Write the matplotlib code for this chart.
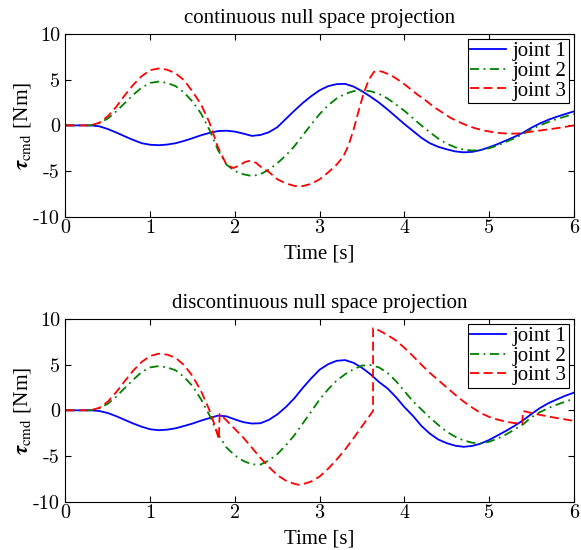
import numpy as np
import matplotlib
matplotlib.use("Agg")
import matplotlib.pyplot as plt

plt.rcParams['font.family'] = ['Liberation Serif', 'DejaVu Serif']
plt.rcParams['mathtext.fontset'] = 'stix'
plt.rcParams['axes.unicode_minus'] = False

# common time base (s) for joints 1 and 2, values every 0.1 s
t = np.linspace(0, 6, 61)

# ---- continuous null space projection
j1_cont = [0, 0, 0, 0, -0.1, -0.4, -0.78, -1.2, -1.6, -1.95,
           -2.12, -2.17, -2.1, -1.95, -1.7, -1.4, -1.08, -0.82, -0.62, -0.58,
           -0.68, -0.9, -1.15, -1.05, -0.75, -0.2, 0.7, 1.6, 2.45, 3.2,
           3.85, 4.3, 4.52, 4.55, 4.25, 3.75, 3.15, 2.5, 1.75, 0.95,
           0.15, -0.6, -1.35, -1.95, -2.35, -2.62, -2.85, -2.95, -2.9, -2.7,
           -2.4, -2.05, -1.65, -1.25, -0.8, -0.25, 0.22, 0.62, 0.95, 1.25,
           1.53]
j2_cont = [0, 0, 0, 0, 0.25, 0.75, 1.55, 2.45, 3.35, 4.15,
           4.65, 4.8, 4.65, 4.3, 3.6, 2.6, 1.3, -0.5, -2.7, -4.3,
           -5.0, -5.35, -5.55, -5.35, -4.85, -4.15, -3.3, -2.3, -1.1, 0.1,
           1.25, 2.2, 2.95, 3.45, 3.75, 3.83, 3.75, 3.45, 2.95, 2.3,
           1.6, 0.8, 0.0, -0.75, -1.45, -2.0, -2.4, -2.65, -2.75, -2.7,
           -2.5, -2.2, -1.8, -1.4, -0.95, -0.4, 0.0, 0.38, 0.7, 0.98,
           1.24]
t3_cont = [0, 0.1, 0.2, 0.3, 0.4, 0.5, 0.6, 0.7, 0.8, 0.9, 1.0, 1.1, 1.2, 1.3, 1.4, 1.5, 1.6,
           1.7, 1.8, 1.9, 1.98, 2.05, 2.12, 2.18, 2.25, 2.3, 2.4, 2.5, 2.6, 2.7, 2.75, 2.8,
           2.9, 3.0, 3.1, 3.2, 3.28, 3.34, 3.4, 3.46, 3.52, 3.58, 3.64, 3.68, 3.75, 3.85,
           3.95, 4.05, 4.15, 4.25, 4.35, 4.45, 4.55, 4.65, 4.75, 4.85, 4.95, 5.05, 5.15,
           5.25, 5.35, 5.45, 5.55, 5.65, 5.75, 5.85, 6.0]
j3_cont = [0, 0, 0, 0, 0.3, 1.0, 2.05, 3.3, 4.45, 5.4, 6.05, 6.24, 6.1, 5.7, 4.95, 3.7, 2.3,
           0.3, -2.4, -4.3, -4.67, -4.4, -4.0, -3.87, -4.1, -4.5, -5.1, -5.9, -6.35, -6.62,
           -6.68, -6.65, -6.4, -5.9, -5.15, -4.3, -3.4, -2.2, -0.47, 1.6, 3.54, 5.0, 5.85,
           6.0, 5.85, 5.45, 4.85, 4.15, 3.4, 2.75, 2.0, 1.4, 0.8, 0.35, -0.05, -0.35, -0.58,
           -0.75, -0.86, -0.91, -0.88, -0.75, -0.62, -0.5, -0.37, -0.24, 0]

# ---- discontinuous null space projection
j1_disc = [0, 0, 0, 0, -0.08, -0.3, -0.65, -1.05, -1.45, -1.8,
           -2.08, -2.18, -2.12, -1.97, -1.72, -1.45, -1.13, -0.85, -0.58, -0.66,
           -1.0, -1.3, -1.45, -1.42, -1.05, -0.45, 0.35, 1.3, 2.45, 3.5,
           4.45, 5.05, 5.42, 5.5, 5.2, 4.65, 3.95, 3.1, 2.4, 1.45,
           0.35, -0.6, -1.7, -2.55, -3.2, -3.6, -3.88, -4.0, -3.9, -3.65,
           -3.25, -2.75, -2.25, -1.7, -1.1, -0.4, 0.25, 0.78, 1.2, 1.6,
           1.93]
j2_disc = [0, 0, 0, 0, 0.22, 0.72, 1.5, 2.45, 3.35, 4.2,
           4.7, 4.84, 4.7, 4.38, 3.65, 2.65, 1.2, -0.55, -2.6, -4.07,
           -4.95, -5.55, -5.92, -5.95, -5.5, -4.8, -3.85, -2.75, -1.45, -0.15,
           1.2, 2.3, 3.25, 3.95, 4.5, 4.9, 4.95, 4.7, 4.1, 3.2,
           2.1, 1.0, 0.1, -0.8, -1.6, -2.35, -2.9, -3.3, -3.55, -3.62,
           -3.45, -3.1, -2.65, -2.1, -1.55, -0.75, -0.2, 0.25, 0.62, 0.95,
           1.27]
t3_disc = [0, 0.1, 0.2, 0.3, 0.4, 0.5, 0.6, 0.7, 0.8, 0.9, 1.0, 1.1, 1.2, 1.3, 1.4, 1.5, 1.6,
           1.7, 1.76, 1.81, 1.82, 1.9, 2.0, 2.1, 2.2, 2.3, 2.4, 2.5, 2.6, 2.7, 2.75, 2.8, 2.9,
           3.0, 3.1, 3.2, 3.3, 3.4, 3.5, 3.63, 3.63, 3.7, 3.8, 3.9, 4.0, 4.1, 4.2, 4.3, 4.4,
           4.5, 4.6, 4.7, 4.8, 4.9, 5.0, 5.1, 5.2, 5.3, 5.39, 5.4, 5.5, 5.6, 5.7, 5.8, 5.9,
           6.0]
j3_disc = [0, 0, 0, 0, 0.28, 0.95, 2.0, 3.2, 4.35, 5.3, 5.95, 6.2, 6.1, 5.75, 4.95, 3.75, 2.1,
           0.0, -1.6, -3.16, -0.4, -1.1, -2.05, -3.0, -4.1, -5.2, -6.2, -7.1, -7.7, -8.05,
           -8.15, -8.1, -7.8, -7.25, -6.4, -5.4, -4.3, -3.05, -1.75, -0.07, 9.0, 8.75, 8.25,
           7.65, 6.85, 5.95, 5.0, 4.1, 3.3, 2.5, 1.7, 0.95, 0.3, -0.3, -0.72, -1.02, -1.25,
           -1.4, -1.45, -0.07, -0.3, -0.5, -0.68, -0.85, -1.0, -1.16]

labels = ['joint 1', 'joint 2', 'joint 3']
titles = ['continuous null space projection', 'discontinuous null space projection']
xticks = [0, 1, 2, 3, 4, 5, 6]
yticks = [-10, -5, 0, 5, 10]

fig = plt.figure(figsize=(5.81, 5.5), dpi=100)
ax_top = fig.add_axes([0.1127, 0.606, 0.875, 0.332])
ax_bot = fig.add_axes([0.1127, 0.088, 0.875, 0.332])

panels = [(ax_top, j1_cont, j2_cont, t3_cont, j3_cont),
          (ax_bot, j1_disc, j2_disc, t3_disc, j3_disc)]

for i, (ax, y1, y2, t3, y3) in enumerate(panels):
    ax.plot(t, y1, color='#0000ff', lw=1.3, ls='-', label=labels[0])
    ax.plot(t, y2, color='#008000', lw=1.3, dashes=(5, 2.5, 1, 2.5), label=labels[1])
    ax.plot(t3, y3, color='#ff0000', lw=1.3, dashes=(5, 2.5), label=labels[2])
    ax.set_xlim(0, 6)
    ax.set_ylim(-10, 10)
    ax.set_xticks(xticks, labels=[str(v) for v in xticks], fontfamily='cmr10', fontsize=14.5)
    ax.set_yticks(yticks, labels=[str(v) for v in yticks], fontfamily='cmr10', fontsize=14.5)
    ax.tick_params(direction='in', top=True, right=True, length=4)
    ax.tick_params(axis='x', pad=2)
    ax.tick_params(axis='y', pad=4)
    ax.set_title(titles[i], fontsize=15, pad=8)
    ax.set_xlabel('Time [s]', fontsize=15, labelpad=5)
    ax.set_ylabel(r'$\boldsymbol{\tau}_{\mathrm{cmd}}$ [Nm]', fontsize=15.5, labelpad=0)
    leg = ax.legend(loc='upper right', fontsize=15, frameon=True, fancybox=False,
                    edgecolor='black', framealpha=1, handlelength=1.7, handletextpad=0.3,
                    labelspacing=0.0, borderpad=0.12, borderaxespad=0.25)
    leg.get_frame().set_linewidth(0.8)

fig.savefig('out.png', dpi=100)
